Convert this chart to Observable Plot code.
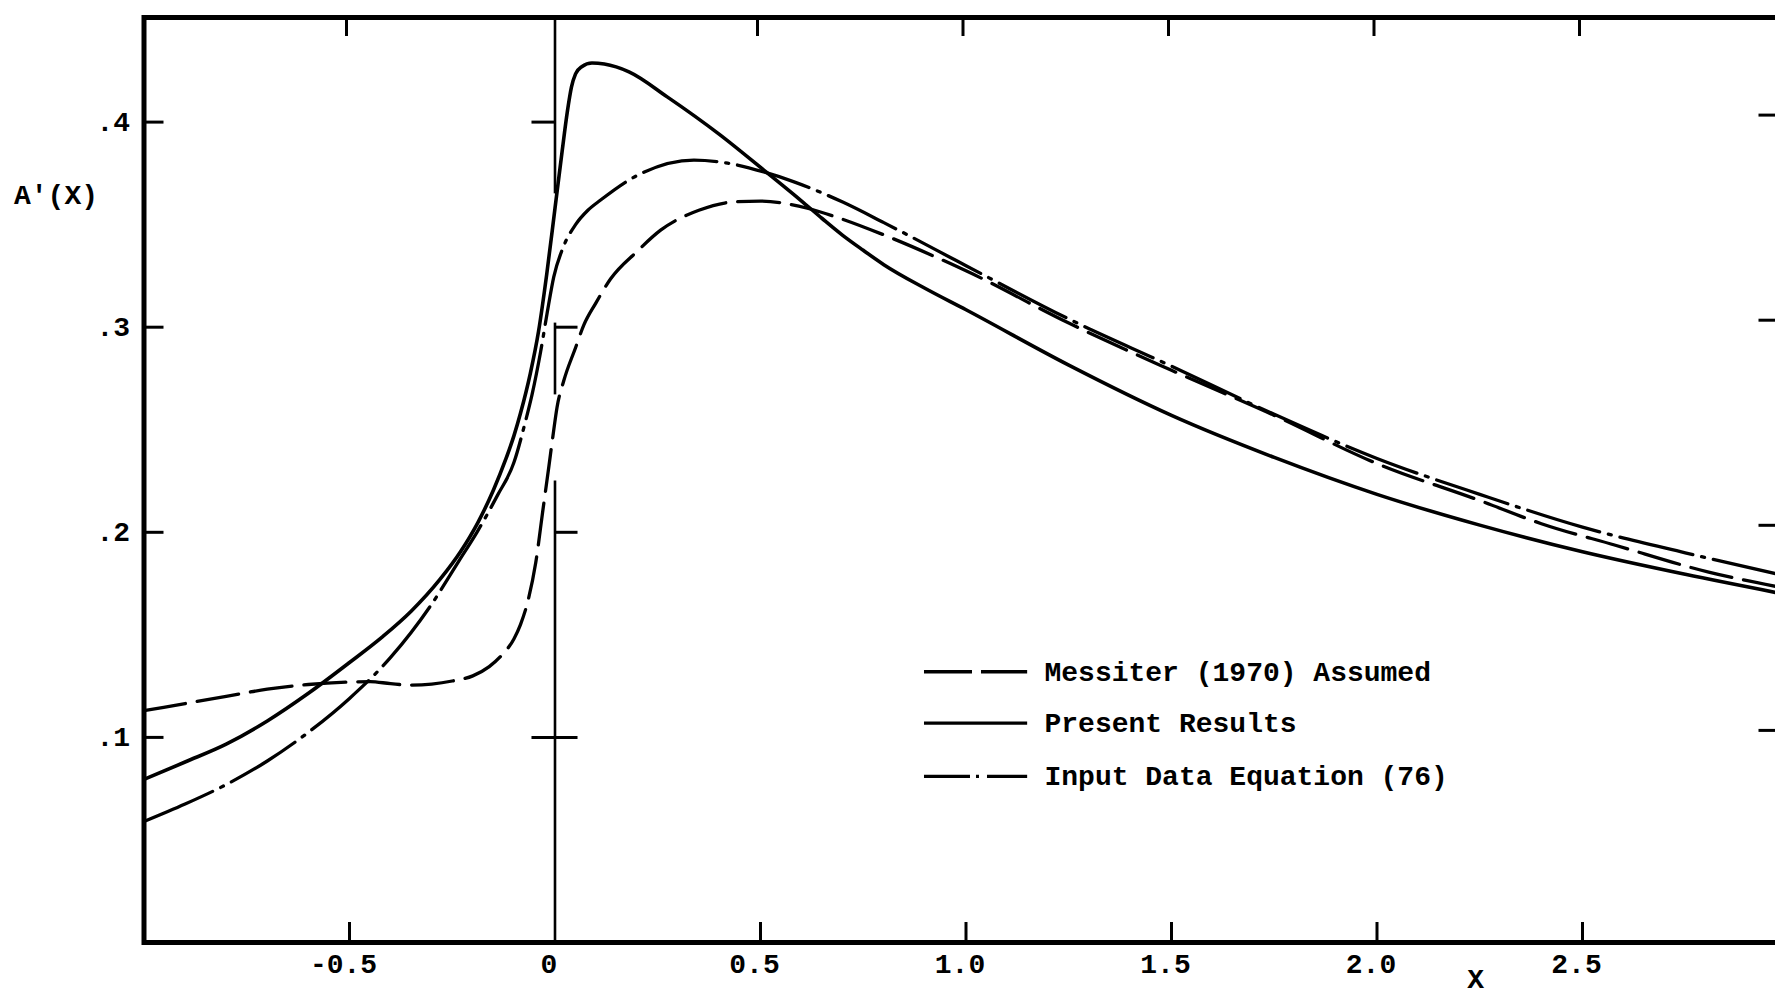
<!DOCTYPE html>
<html>
<head>
<meta charset="utf-8">
<script src="https://cdn.jsdelivr.net/npm/d3@7"></script>
<script src="https://cdn.jsdelivr.net/npm/@observablehq/plot@0.6"></script>
<style>
  html, body { margin: 0; padding: 0; background: #fff; overflow: hidden; width: 1775px; height: 997px; }
  #chart { width: 1775px; height: 997px; overflow: hidden; }
  #chart svg { display: block; max-width: none !important; width: 1800px !important; height: 997px !important; }
</style>
</head>
<body>
<div id="chart"></div>
<script>
// ---- Data ----
const presentX = [-1.0,-0.9,-0.8,-0.7,-0.6,-0.5,-0.42,-0.35,-0.28,-0.23,-0.187,-0.15,-0.12,-0.1,-0.084,-0.06,-0.04,-0.02,0,0.0175,0.03,0.04,0.05,0.065,0.09,0.12,0.18,0.273,0.4,0.508,0.6,0.65,0.7,0.75,0.8,0.9,1.0,1.25,1.5,1.75,2.0,2.25,2.5,2.75,3.0];
const presentY = [0.0795,0.088,0.0967,0.108,0.1215,0.1365,0.149,0.1615,0.177,0.1905,0.205,0.2205,0.2355,0.247,0.258,0.2775,0.298,0.326,0.358,0.386,0.405,0.417,0.4235,0.427,0.4288,0.4283,0.4245,0.4123,0.394,0.3766,0.3615,0.353,0.3448,0.3375,0.3305,0.319,0.3085,0.2815,0.257,0.2365,0.2185,0.2035,0.1905,0.1795,0.1695];

const inputX = [-1.0,-0.9,-0.8,-0.7,-0.6,-0.5,-0.4,-0.3,-0.234,-0.19,-0.14,-0.1,-0.072,-0.056,-0.035,-0.019,-0.003,0.02,0.05,0.08,0.111,0.2,0.338,0.42,0.508,0.58,0.7,0.8,0.962,1.0,1.25,1.5,1.75,2.0,2.25,2.5,2.75,3.0];
const inputY = [0.059,0.0675,0.077,0.0885,0.1025,0.119,0.139,0.165,0.186,0.2,0.218,0.234,0.254,0.267,0.288,0.307,0.3245,0.339,0.350,0.357,0.362,0.374,0.3815,0.380,0.3757,0.371,0.361,0.351,0.334,0.330,0.304,0.281,0.2575,0.236,0.2185,0.2025,0.190,0.1785];

const messiterX = [-1.0,-0.9,-0.8,-0.7,-0.6,-0.5,-0.45,-0.4,-0.35,-0.3,-0.25,-0.2,-0.16,-0.13,-0.1,-0.084,-0.064,-0.047,-0.03,-0.015,-0.005,0.005,0.0215,0.05,0.07,0.1,0.135,0.2,0.257,0.35,0.435,0.5,0.614,0.687,0.8,0.962,1.0,1.25,1.5,1.75,2.0,2.25,2.4,2.58,2.807,3.0];
const messiterY = [0.113,0.1165,0.120,0.1235,0.1258,0.127,0.1272,0.1262,0.1255,0.126,0.1275,0.130,0.1345,0.140,0.148,0.155,0.168,0.185,0.210,0.232,0.247,0.261,0.274,0.290,0.301,0.312,0.3235,0.337,0.3473,0.357,0.3611,0.3615,0.358,0.3535,0.345,0.331,0.3275,0.302,0.279,0.257,0.2335,0.2155,0.2042,0.1937,0.1806,0.1725];

const xTicks = [-0.5, 0, 0.5, 1.0, 1.5, 2.0, 2.5];
const xTickLabels = ["-0.5", "0", "0.5", "1.0", "1.5", "2.0", "2.5"];
const yTicks = [0.1, 0.2, 0.3, 0.4];
const yTickLabels = [".1", ".2", ".3", ".4"];

// vertical axis line drawn at X = 0 (broken where the curves cross it)
const zeroAxisFrom = [0.365, 0.267, 0];
const zeroAxisTo   = [0.451, 0.302, 0.225];
const zeroAxisTickY    = [0.4, 0.3, 0.2, 0.1];
const zeroAxisTickSide = ["left", "right", "right", "both"];

const seriesNames = ["Messiter (1970) Assumed", "Present Results", "Input Data Equation (76)"];
const yTitle = "A'(X)";
const xTitle = "X";

// ---- Build tables ----
const toRows = (xs, ys) => xs.map((x, i) => ({x, y: ys[i]}));
const present = toRows(presentX, presentY);
const input = toRows(inputX, inputY);
const messiter = toRows(messiterX, messiterY);
const zeroSegs = zeroAxisFrom.map((a, i) => ({y1: a, y2: zeroAxisTo[i]}));
const zeroTicks = zeroAxisTickY.map((y, i) => ({y, side: zeroAxisTickSide[i]}));

// ---- Styles ----
const FONT = "'Liberation Mono', 'DejaVu Sans Mono', monospace";
const INK = "#000";
const DASHED = "42,12";
const DASHDOT = "75,9,3,9";
const LW = 3.3;
const HALF = 0.056;     // half-length of the ticks on the X=0 line, in x units
const LEG = {x1: 0.899, x2: 1.150, xt: 1.191, rows: [0.132, 0.107, 0.081]};
const legendDash = [[48, 9].join(","), null, [46, 6, 3, 8, 60].join(",")];

const textOpts = {fontFamily: FONT, fontSize: 28, fontWeight: "bold", fill: INK};

const chart = Plot.plot({
  width: 1800,
  height: 997,
  marginLeft: 143.5,
  marginRight: 12.5,
  marginTop: 17,
  marginBottom: 55,
  x: {domain: [-1, 3]},
  y: {domain: [0, 0.451]},
  style: {fontFamily: FONT, fontSize: "28px", color: INK, background: "#fff", maxWidth: "none"},
  marks: [
    // curves
    Plot.line(messiter, {x: "x", y: "y", stroke: INK, strokeWidth: LW, strokeDasharray: DASHED, curve: "monotone-x", clip: true}),
    Plot.line(input, {x: "x", y: "y", stroke: INK, strokeWidth: LW, strokeDasharray: DASHDOT, curve: "monotone-x", clip: true}),
    Plot.line(present, {x: "x", y: "y", stroke: INK, strokeWidth: LW + 0.3, curve: "monotone-x", clip: true}),

    // the X = 0 axis line and its ticks
    Plot.ruleX(zeroSegs, {x: () => 0, y1: "y1", y2: "y2", stroke: INK, strokeWidth: 2.6}),
    Plot.ruleY(zeroTicks, {y: "y", x1: d => d.side === "right" ? 0 : -HALF, x2: d => d.side === "left" ? 0 : HALF, stroke: INK, strokeWidth: 3}),

    // inward ticks on all four sides
    Plot.axisX({anchor: "bottom", ticks: xTicks.filter(d => d !== 0), tickSize: -20, strokeWidth: 3, tickFormat: () => "", label: null}),
    Plot.axisX({anchor: "top", ticks: xTicks.filter(d => d !== 0), tickSize: -18, strokeWidth: 3, dx: -3, tickFormat: () => "", label: null}),
    Plot.axisY({anchor: "left", ticks: yTicks, tickSize: -20, strokeWidth: 3, tickFormat: () => "", label: null}),
    Plot.axisY({anchor: "right", ticks: yTicks, tickSize: -30, strokeWidth: 3, dy: -7, tickFormat: () => "", label: null}),

    // tick labels
    Plot.axisX({anchor: "bottom", ticks: xTicks, tickSize: 0, tickPadding: 11, dx: -6,
      tickFormat: d => xTickLabels[xTicks.indexOf(d)], label: null, ...textOpts}),
    Plot.axisY({anchor: "left", ticks: yTicks, tickSize: 0, tickPadding: 14,
      tickFormat: d => yTickLabels[yTicks.indexOf(d)], label: null, ...textOpts}),

    // axis titles
    Plot.text([yTitle], {frameAnchor: "top-left", dx: -130, dy: 178, textAnchor: "start", lineAnchor: "middle", ...textOpts}),
    Plot.text([xTitle], {x: () => 2.24, frameAnchor: "bottom", dy: 37, lineAnchor: "middle", ...textOpts}),

    // legend
    ...seriesNames.map((name, i) => Plot.ruleY([LEG.rows[i]], {
      y: d => d, x1: LEG.x1, x2: LEG.x2, stroke: INK, strokeWidth: LW,
      strokeDasharray: legendDash[i] ?? undefined
    })),
    Plot.text(seriesNames, {x: () => LEG.xt, y: (d, i) => LEG.rows[i], text: d => d, textAnchor: "start", lineAnchor: "middle", ...textOpts}),

    // frame
    Plot.frame({stroke: INK, strokeWidth: 5})
  ]
});

document.getElementById("chart").appendChild(chart);
</script>
</body>
</html>
